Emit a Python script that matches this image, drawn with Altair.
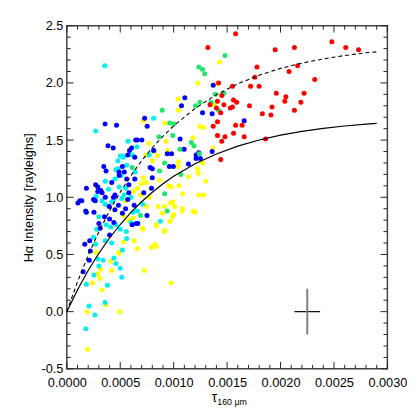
import altair as alt
import pandas as pd

# ---- data (tau in units of 1e-3, H-alpha in rayleighs) ----
yellow_pts = [(1.225,2.00),(1.43,2.18),(1.40,1.99),(1.043,1.86),(1.046,1.76),(0.716,1.67),(0.917,1.65),
              (1.245,1.62),(1.278,1.61),(1.38,1.81),(1.37,1.43),(0.768,1.47),(0.93,1.49),(0.82,1.40),
              (0.74,1.37),(0.85,1.36),(0.80,1.32),(0.94,1.41),(1.18,1.52),(1.046,1.31),(1.223,1.25),
              (1.04,1.27),(1.23,1.21),(1.30,1.14),(1.28,1.02),(1.27,1.30),(0.716,1.17),(0.746,1.13),
              (0.868,1.15),(0.954,1.10),(0.975,1.09),(1.083,1.03),(1.235,1.02),(1.05,1.10),(1.14,1.18),
              (0.746,0.92),(0.853,0.92),(0.915,0.92),(0.991,0.96),(1.083,0.90),(0.55,0.97),(0.706,0.73),
              (0.838,0.76),(0.966,0.79),(1.00,0.85),(0.893,0.86),(1.183,0.88),(1.08,0.88),(1.20,0.87),
              (0.917,0.71),(0.63,0.62),(0.66,0.55),(0.826,0.59),(0.838,0.57),(0.79,0.56),(0.725,0.36),
              (0.975,0.25),(0.483,0.52),(0.42,0.36),(0.315,0.37),(0.33,0.19),(0.31,0.29),(0.24,0.25),
              (0.367,0.06),(0.19,0.00),(0.495,0.00),(0.193,-0.33),(0.49,0.51),(0.41,0.44),(0.53,0.61),
              (0.71,0.72),(0.84,0.75),(0.91,0.70),(0.99,0.83),(1.01,0.92),(0.97,0.95),(0.77,1.00),
              (0.69,1.02),(0.62,1.05),(0.66,1.08),(0.70,1.12),(0.58,0.80),(0.62,0.82),(0.53,0.84),
              (0.27,0.52),(0.29,0.33)]

cyan_pts = [(0.355,2.15),(0.27,1.58),(0.813,1.69),(0.572,1.49),(0.612,1.37),(0.477,1.32),(0.459,1.24),
            (0.507,1.19),(0.36,1.14),(0.489,1.09),(0.39,1.07),(0.275,1.01),(0.535,1.02),(0.514,0.99),
            (0.771,1.37),(0.557,0.70),(0.36,0.62),(0.29,0.46),(0.44,0.47),(0.46,0.42),(0.514,0.30),
            (0.183,0.24),(0.254,0.32),(0.38,0.23),(0.875,0.79),(0.208,0.05),(0.358,0.08),(0.263,-0.03),
            (0.177,-0.15),(0.655,1.44),(0.81,1.41),(0.52,1.36),(0.50,1.36),(0.53,1.35),(0.48,1.25),
            (0.45,1.16),(0.55,1.08),(0.33,0.97),(0.36,0.94),(0.42,0.96),(0.44,0.99),(0.60,1.00),
            (0.37,0.76),(0.41,0.74),(0.46,0.76),(0.50,0.72),(0.56,0.64),(0.60,0.78),(0.66,0.88),
            (0.28,0.72),(0.25,0.65),(0.34,0.45),(0.30,0.40),(0.50,0.38),(0.62,0.87),(0.71,0.94),
            (0.27,0.59),(0.42,0.60),(0.52,0.54),(0.30,0.83),(0.64,1.22),(0.56,1.28)]

blue_pts = [(0.358,1.64),(0.465,1.63),(0.385,1.45),(0.434,1.43),(0.728,1.69),(0.752,1.62),(1.104,1.87),
            (1.073,1.80),(1.27,1.74),(1.37,1.98),(1.36,1.73),(1.66,1.67),(1.36,1.40),(1.21,1.37),
            (1.21,1.34),(0.587,1.41),(0.636,1.35),(0.346,1.27),(0.367,1.23),(0.489,1.22),(0.538,1.22),
            (0.56,1.16),(0.636,1.16),(0.581,1.11),(0.183,1.08),(0.29,1.09),(0.318,1.06),(0.36,1.00),
            (0.266,0.97),(0.122,0.97),(0.104,0.95),(0.437,1.00),(0.397,0.92),(0.45,0.89),(0.177,0.88),
            (0.483,0.93),(0.63,0.93),(0.703,1.50),(0.813,1.41),(1.098,1.42),(1.235,1.39),(1.25,1.34),
            (0.96,1.27),(0.997,1.27),(1.138,1.29),(0.80,1.17),(0.792,1.08),(0.183,0.87),(0.254,0.87),
            (0.352,0.83),(0.40,0.81),(0.30,0.77),(0.312,0.73),(0.612,0.76),(0.40,0.67),(0.214,0.62),
            (0.168,0.59),(0.22,0.53),(0.153,0.35),(0.21,0.45),(0.75,0.84),(0.664,0.77),(0.645,1.50),
            (0.66,1.50),(0.606,1.43),(0.57,1.37),(0.78,1.26),(0.80,1.25),(0.94,1.38),(0.98,1.38),
            (1.06,1.51),(0.33,1.04),(0.29,1.05),(0.25,0.98),(0.14,0.97),(0.45,1.02),(0.58,1.04),
            (0.65,0.77),(0.52,0.86),(0.55,0.90),(0.44,0.78),(0.27,1.11),(0.49,1.19),(0.42,1.13),
            (0.52,1.27),(0.72,1.04),(0.57,0.98)]

green_pts = [(1.235,2.14),(1.27,2.12),(1.29,2.08),(1.48,2.24),(0.893,1.76),(1.205,1.80),(1.245,1.83),
             (0.963,1.65),(1.003,1.64),(1.39,1.90),(1.47,1.91),(1.35,1.83),(1.42,1.76),(0.991,1.54),
             (0.862,1.53),(1.058,1.42),(1.165,1.48),(1.19,1.45),(0.915,1.30),(0.612,1.26),(0.868,1.23),
             (1.067,1.20),(0.915,1.03),(0.69,0.84),(0.94,0.88),(1.24,1.38)]

red_pts = [(1.58,2.43),(1.32,2.31),(1.95,2.29),(2.13,2.31),(2.48,2.36),(2.61,2.31),(2.73,2.29),
           (1.78,2.14),(2.16,2.15),(2.08,2.10),(1.76,2.05),(2.32,2.03),(1.42,2.00),(1.55,1.97),
           (1.72,1.97),(1.80,1.97),(1.45,1.89),(1.96,1.91),(2.05,1.88),(2.22,1.91),(2.04,1.84),
           (2.19,1.83),(1.56,1.85),(1.59,1.83),(1.41,1.84),(1.47,1.81),(1.34,1.81),(1.40,1.78),
           (1.44,1.74),(1.53,1.78),(1.55,1.79),(1.71,1.80),(1.92,1.79),(2.13,1.76),(1.83,1.73),
           (1.91,1.72),(1.41,1.66),(1.37,1.62),(1.58,1.63),(1.64,1.63),(1.56,1.56),(1.41,1.54),
           (1.48,1.53),(1.45,1.49),(1.66,1.53),(1.86,1.51),(1.44,1.33)]

# model curves
curve_tau = [0.0, 0.1, 0.2, 0.3, 0.4, 0.5, 0.6, 0.7, 0.8, 0.9, 1.0, 1.2, 1.4, 1.6, 1.8,
             2.0, 2.2, 2.4, 2.6, 2.8, 2.9]
solid_ha = [0.0, 0.191, 0.360, 0.511, 0.644, 0.762, 0.868, 0.961, 1.044, 1.118, 1.183,
            1.293, 1.379, 1.447, 1.501, 1.543, 1.576, 1.602, 1.623, 1.639, 1.646]
dashed_ha = [0.0, 0.261, 0.493, 0.699, 0.882, 1.045, 1.190, 1.319, 1.433, 1.535, 1.625,
             1.777, 1.897, 1.992, 2.067, 2.127, 2.173, 2.210, 2.240, 2.263, 2.272]

# representative error bar
err_tau = [0.00225]
err_ha = [0.0]
err_dtau = [0.00012]
err_dha = [0.2]

x_major = [0.0, 0.0005, 0.0010, 0.0015, 0.0020, 0.0025, 0.0030]
y_major = [-0.5, 0.0, 0.5, 1.0, 1.5, 2.0, 2.5]
x_minor = [round(i * 0.0001, 4) for i in range(31) if i % 5 != 0]
y_minor = [round(-0.5 + i * 0.1, 1) for i in range(31) if i % 5 != 0]

W, H = 327, 350
FONT = "Liberation Sans"
TICK_COLOR = "#222222"
MAJOR, MINOR = 7, 4

xscale = alt.Scale(domain=[0, 0.003], nice=False, zero=False)
yscale = alt.Scale(domain=[-0.5, 2.5], nice=False, zero=False)

x_main = alt.Axis(orient="bottom", values=x_major, format=".4f", labelFontSize=13,
                  labelPadding=8, ticks=False, tickSize=0, domain=False, grid=False,
                  labelFlush=False, labelOverlap=False, labelColor="black",
                  title="τ", titleFontSize=14, titleFontWeight="normal", titleX=150, titleY=33,
                  titleBaseline="alphabetic", titleColor="black")
x_sub = alt.Axis(orient="bottom", labels=False, ticks=False, domain=False, grid=False,
                 title="160 μm", titleFontSize=9, titleFontWeight="normal", titleX=168,
                 titleY=36, titleBaseline="alphabetic", titleColor="black")
y_main = alt.Axis(orient="left", values=y_major, labelFontSize=13, labelPadding=4,
                  labelExpr="datum.value < 0 ? '-' + format(-datum.value, '.1f') : format(datum.value, '.1f')",
                  ticks=False, tickSize=0, domain=False, grid=False, labelFlush=False,
                  labelOverlap=False, labelColor="black",
                  title="Hα Intensity [rayleighs]", titleFontSize=13, titleFontWeight="normal",
                  titleX=-35, titleY=H / 2, titleBaseline="alphabetic", titleColor="black")


def points(pairs, color, xa=None, ya=None):
    df = pd.DataFrame(pairs, columns=["tau_milli", "ha"])
    df["tau"] = df["tau_milli"] * 1e-3
    return alt.Chart(df).mark_circle(size=26, opacity=1, color=color).encode(
        x=alt.X("tau:Q", scale=xscale, axis=xa),
        y=alt.Y("ha:Q", scale=yscale, axis=ya),
    )


def x_ticks(values, edge, inward):
    df = pd.DataFrame({"v": values})
    return alt.Chart(df).mark_rule(color=TICK_COLOR, strokeWidth=1).encode(
        x=alt.X("v:Q", scale=xscale, axis=None),
        y=alt.value(edge), y2=alt.value(inward),
    )


def y_ticks(values, edge, inward):
    df = pd.DataFrame({"v": values})
    return alt.Chart(df).mark_rule(color=TICK_COLOR, strokeWidth=1).encode(
        y=alt.Y("v:Q", scale=yscale, axis=None),
        x=alt.value(edge), x2=alt.value(inward),
    )


tick_layers = [
    x_ticks(x_major, H, H - MAJOR), x_ticks(x_minor, H, H - MINOR),
    x_ticks(x_major, 0, MAJOR), x_ticks(x_minor, 0, MINOR),
    y_ticks(y_major, 0, MAJOR), y_ticks(y_minor, 0, MINOR),
    y_ticks(y_major, W, W - MAJOR), y_ticks(y_minor, W, W - MINOR),
]

curve_df = pd.DataFrame({"tau": [v * 1e-3 for v in curve_tau],
                         "solid": solid_ha, "dashed": dashed_ha})

solid = alt.Chart(curve_df).mark_line(color="black", strokeWidth=1.2).encode(
    x=alt.X("tau:Q", scale=xscale, axis=x_sub),
    y=alt.Y("solid:Q", scale=yscale, axis=None),
)
dashed = alt.Chart(curve_df).mark_line(color="black", strokeWidth=1.1, strokeDash=[4, 3]).encode(
    x=alt.X("tau:Q", scale=xscale, axis=None),
    y=alt.Y("dashed:Q", scale=yscale, axis=None),
)

err_df = pd.DataFrame({"tau": err_tau, "ha": err_ha, "dtau": err_dtau, "dha": err_dha})
err_df["tlo"] = err_df["tau"] - err_df["dtau"]
err_df["thi"] = err_df["tau"] + err_df["dtau"]
err_df["hlo"] = err_df["ha"] - err_df["dha"]
err_df["hhi"] = err_df["ha"] + err_df["dha"]

err_h = alt.Chart(err_df).mark_rule(color="black", strokeWidth=1.2).encode(
    x=alt.X("tlo:Q", scale=xscale, axis=None), x2="thi:Q",
    y=alt.Y("ha:Q", scale=yscale, axis=None),
)
err_v = alt.Chart(err_df).mark_rule(color="#808080", strokeWidth=2).encode(
    x=alt.X("tau:Q", scale=xscale, axis=None),
    y=alt.Y("hlo:Q", scale=yscale, axis=None), y2="hhi:Q",
)

chart = alt.layer(
    points(yellow_pts, "#ffff00", x_main, y_main),
    points(cyan_pts, "#00f0f0"),
    points(blue_pts, "#0000ff"),
    points(green_pts, "#1ee86a"),
    points(red_pts, "#ff0000"),
    solid, dashed, err_h, err_v,
    *tick_layers,
).resolve_axis(x="independent", y="independent").properties(
    width=W, height=H,
    autosize=alt.AutoSizeParams(type="none"),
    padding={"left": 60, "top": 14, "right": 20, "bottom": 43},
).configure_view(stroke="#444", strokeWidth=1.5).configure_axis(
    labelFont=FONT, titleFont=FONT
)

chart.save("out.html", embed_options={"renderer": "svg", "actions": False})
